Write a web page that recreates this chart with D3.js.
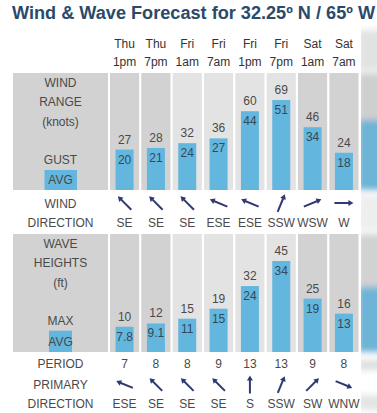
<!DOCTYPE html>
<html>
<head>
  <meta charset="utf8">
  <script src="https://d3js.org/d3.v7.min.js"></script>
  <style>
    body { margin: 0; background: #fff; }
    text { font-family: "Liberation Sans", Arial, sans-serif; }
  </style>
</head>
<body>
  <svg id="chart" width="377" height="413"></svg>
  <script>
    var days = ['Thu', 'Thu', 'Fri', 'Fri', 'Fri', 'Fri', 'Sat', 'Sat'];
    var hours = ['1pm', '7pm', '1am', '7am', '1pm', '7pm', '1am', '7am'];
    var windGust = [27, 28, 32, 36, 60, 69, 46, 24];
    var windAvg = [20, 21, 24, 27, 44, 51, 34, 18];
    var windDir = ['SE', 'SE', 'SE', 'ESE', 'ESE', 'SSW', 'WSW', 'W'];
    var waveMax = [10, 12, 15, 19, 32, 45, 25, 16];
    var waveAvg = [7.8, 9.1, 11, 15, 24, 34, 19, 13];
    var wavePeriod = [7, 8, 8, 9, 13, 13, 9, 8];
    var waveDir = ['ESE', 'SE', 'SE', 'SE', 'S', 'SSW', 'SW', 'WNW'];
    var compass = ['N', 'NNE', 'NE', 'ENE', 'E', 'ESE', 'SE', 'SSE',
      'S', 'SSW', 'SW', 'WSW', 'W', 'WNW', 'NW', 'NNW'];

    var cols = d3.range(days.length);
    var dayList = Array.from(new Set(days));

    var chart = d3.select('#chart');
    var textCol = '#4a4a4a';
    var blue = '#63b6dd';
    var arrowCol = '#2f3a72';

    var x = d3.scaleBand()
      .domain(cols)
      .range([110, 358.5])
      .paddingInner(0.07);

    var yWind = d3.scaleLinear().domain([0, 70]).range([181.5, 69.7]);
    var yWave = d3.scaleLinear().domain([0, 45]).range([346.3, 233.4]);

    var cx = (i) => x(i) + x.bandwidth() / 2;
    var shade = (i) => dayList.indexOf(days[i]) % 2 === 0 ? '#d2d2d2' : '#e3e3e3';

    // blurred neighbour strip on the right edge
    var defs = chart.append('defs');
    defs.append('filter').attr('id', 'blur')
      .append('feGaussianBlur').attr('stdDeviation', 3);
    defs.append('clipPath').attr('id', 'edge')
      .append('rect').attr('x', 361).attr('y', 25).attr('width', 20).attr('height', 400);
    var edge = chart.append('g').attr('clip-path', 'url(#edge)')
      .append('g').attr('filter', 'url(#blur)');
    [[30, 40, '#e2e2e2'], [73, 117, '#cfcfcf'], [120, 70, '#6db4d6'],
     [195, 35, '#eeeeee'], [234, 118, '#d2d2d2'], [287, 65, '#6db4d6'],
     [360, 10, '#dddddd'], [395, 15, '#e4e4e4']].forEach((r) => {
      edge.append('rect').attr('x', 358).attr('y', r[0]).attr('width', 30)
        .attr('height', r[1]).attr('fill', r[2]);
    });

    chart.append('text')
      .attr('x', 12).attr('y', 18.5)
      .attr('font-size', 18).attr('font-weight', 'bold')
      .attr('fill', '#2b4a6a')
      .attr('textLength', 363).attr('lengthAdjust', 'spacingAndGlyphs')
      .text('Wind & Wave Forecast for 32.25º N / 65º W');

    // column headers
    var head = chart.append('g').attr('fill', '#333').attr('font-size', 12)
      .attr('text-anchor', 'middle');
    head.selectAll('text.day').data(cols).enter().append('text')
      .attr('class', 'day').attr('x', cx).attr('y', 47.5).text((i) => days[i]);
    head.selectAll('text.hour').data(cols).enter().append('text')
      .attr('class', 'hour').attr('x', cx).attr('y', 66).text((i) => hours[i]);

    function panel(top, bottom, scale, hi, lo, labels, avgBox, fmt) {
      chart.append('rect').attr('x', 13).attr('y', top)
        .attr('width', 95).attr('height', bottom - top).attr('fill', '#d2d2d2');
      chart.append('rect').attr('x', avgBox[0]).attr('y', avgBox[1])
        .attr('width', avgBox[2]).attr('height', bottom - avgBox[1]).attr('fill', blue);
      chart.append('g').attr('fill', textCol).attr('font-size', 12)
        .attr('text-anchor', 'middle')
        .selectAll('text').data(labels).enter().append('text')
        .attr('x', 60.5).attr('y', (d) => d[1]).text((d) => d[0]);

      var g = chart.append('g').selectAll('g').data(cols).enter().append('g');
      g.append('rect').attr('x', (i) => x(i)).attr('y', top)
        .attr('width', x.bandwidth()).attr('height', bottom - top).attr('fill', shade);
      g.append('rect').attr('x', (i) => cx(i) - 9).attr('y', (i) => scale(lo[i]))
        .attr('width', 18).attr('height', (i) => bottom - scale(lo[i])).attr('fill', blue);
      g.append('text').attr('x', cx).attr('y', (i) => scale(lo[i]) - 6)
        .attr('text-anchor', 'middle').attr('font-size', 12).attr('fill', textCol)
        .text((i) => hi[i]);
      g.append('text').attr('x', cx).attr('y', (i) => scale(lo[i]) + 14)
        .attr('text-anchor', 'middle').attr('font-size', 12).attr('fill', '#34495a')
        .text((i) => fmt(lo[i]));
    }

    panel(73, 190, yWind, windGust, windAvg,
      [['WIND', 87], ['RANGE', 106], ['(knots)', 125.5], ['GUST', 163.6], ['AVG', 183.8]],
      [44.5, 170, 32.5], d3.format('d'));
    panel(234, 352, yWave, waveMax, waveAvg,
      [['WAVE', 248.3], ['HEIGHTS', 267], ['(ft)', 286.5], ['MAX', 325], ['AVG', 345.5]],
      [49, 330.7, 23], (v) => String(v));

    function arrows(dirs, yc, len) {
      var g = chart.append('g').selectAll('g').data(cols).enter().append('g')
        .attr('transform', (i) => 'translate(' + cx(i) + ',' + yc + ') rotate(' +
          (compass.indexOf(dirs[i]) * 22.5 + 180) + ')');
      g.append('line').attr('x1', 0).attr('y1', len / 2).attr('x2', 0).attr('y2', -len / 2 + 3)
        .attr('stroke', arrowCol).attr('stroke-width', 2);
      g.append('path')
        .attr('d', 'M0,' + (-len / 2) + 'L-3,' + (-len / 2 + 5) + 'L3,' + (-len / 2 + 5) + 'Z')
        .attr('fill', arrowCol);
    }

    function labelRow(items, y) {
      chart.append('g').attr('fill', textCol).attr('font-size', 12)
        .attr('text-anchor', 'middle')
        .selectAll('text').data(items).enter().append('text')
        .attr('x', (d) => d[0]).attr('y', y).text((d) => d[1]);
    }

    labelRow([[60.5, 'WIND']], 207.6);
    labelRow([[60.5, 'DIRECTION']].concat(cols.map((i) => [cx(i), windDir[i]])), 226.6);
    arrows(windDir, 203, 19);

    labelRow([[60.5, 'PERIOD']].concat(cols.map((i) => [cx(i), wavePeriod[i]])), 368.3);
    labelRow([[60.5, 'PRIMARY']], 388.6);
    labelRow([[60.5, 'DIRECTION']].concat(cols.map((i) => [cx(i), waveDir[i]])), 407.6);
    arrows(waveDir, 384.5, 18);
  </script>
</body>
</html>
